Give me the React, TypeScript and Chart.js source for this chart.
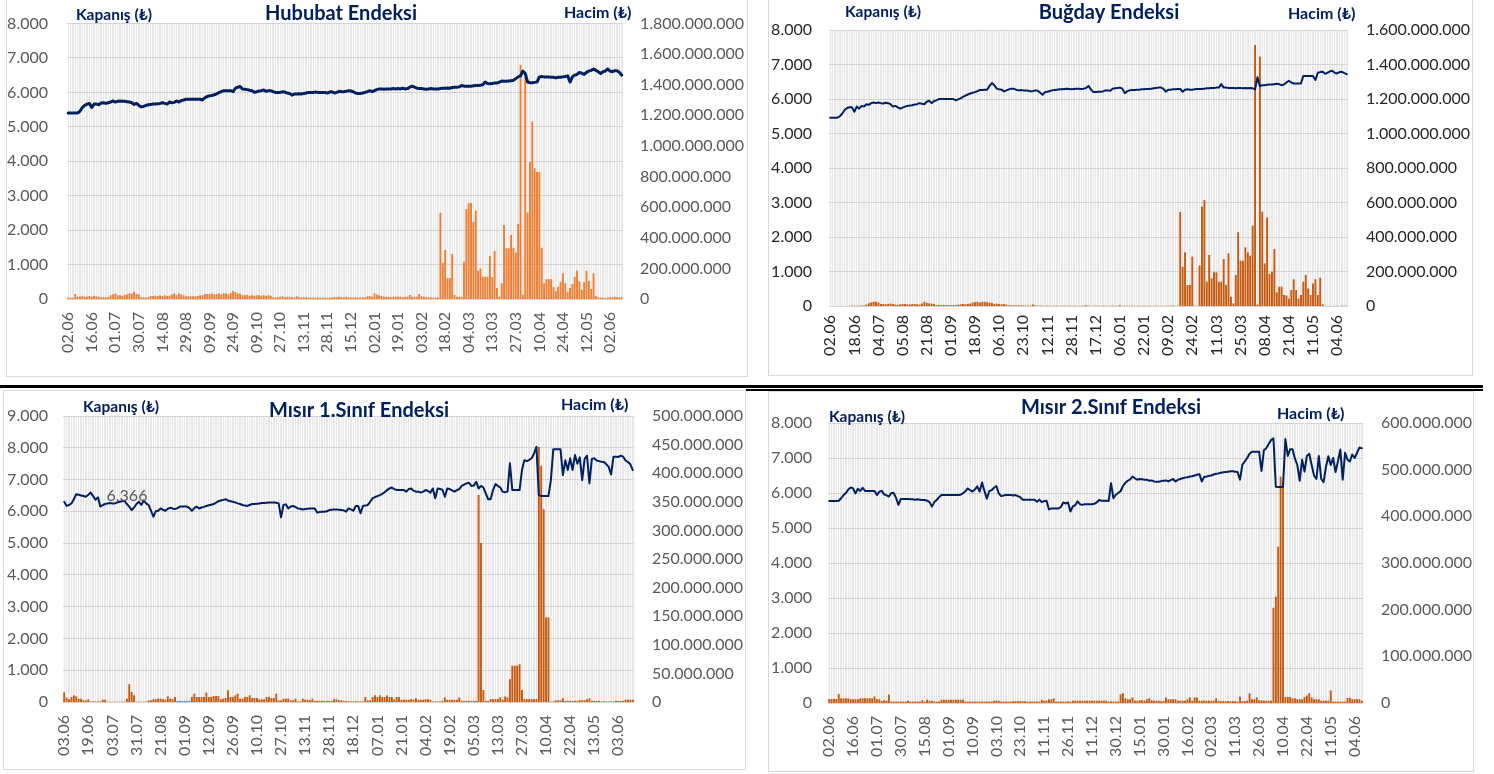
import React, { useEffect, useRef } from 'react';
import { Chart, registerables } from 'chart.js';
Chart.register(...registerables);

const FONT = "Lato, 'Noto Sans', 'DejaVu Sans', sans-serif";
const NAVY = '#002060';

// ---------------- Hububat ----------------
const hububatTicks = ['02.06','16.06','01.07','30.07','14.08','29.08','09.09','24.09','09.10','27.10','13.11','28.11','15.12','02.01','19.01','03.02','18.02','04.03','13.03','27.03','10.04','24.04','12.05','02.06'];
const hububatClose = [
5400,5400,5400,5400,5400,5450,5560,5620,5660,5680,
5560,5660,5660,5640,5690,5700,5680,5700,5720,5750,
5720,5740,5750,5740,5740,5730,5720,5700,5650,5680,
5620,5580,5590,5620,5640,5650,5660,5660,5670,5680,
5700,5680,5660,5720,5700,5710,5750,5720,5760,5780,
5800,5800,5800,5800,5800,5800,5800,5780,5840,5880,
5900,5910,5930,5960,5990,6020,6050,6050,6050,6050,
6020,6120,6150,6170,6100,6090,6080,6060,6050,6000,
6020,6040,6050,6070,6030,6050,6050,6020,6000,6000,
6000,6020,6010,5980,5970,5920,5950,5950,5960,5950,
5970,5980,6000,6000,6000,6010,6000,6000,6000,6000,
5980,6010,6020,5980,6000,6030,6020,6020,6030,6050,
6040,6020,5980,5970,5970,5980,6000,6020,6050,6020,
6050,6080,6100,6100,6090,6100,6100,6100,6110,6100,
6110,6100,6120,6100,6110,6150,6180,6150,6120,6110,
6110,6100,6090,6100,6110,6100,6100,6100,6110,6120,
6120,6130,6120,6140,6150,6150,6160,6200,6180,6180,
6180,6180,6190,6200,6200,6210,6220,6300,6260,6250,
6260,6270,6270,6300,6330,6320,6320,6330,6340,6350,
6400,6450,6480,6620,6550,6300,6280,6280,6290,6300,
6450,6460,6450,6450,6450,6440,6440,6420,6440,6440,
6450,6460,6480,6300,6450,6500,6520,6580,6560,6520,
6580,6620,6640,6680,6640,6600,6550,6600,6620,6680,
6620,6600,6630,6630,6580,6500];
// volume in millions of TL
const hububatVolume = [
8,8,8,33,15,15,22,15,15,20,
15,22,18,15,12,12,12,12,25,30,
36,25,25,22,28,30,36,36,48,33,
30,12,12,10,12,20,20,22,20,25,
20,25,20,22,30,36,25,36,30,25,
18,18,18,18,18,20,25,25,33,33,
33,36,30,33,36,30,38,36,30,40,
52,45,36,36,25,25,28,22,25,22,
25,25,22,25,22,25,22,10,10,12,
15,18,12,15,15,12,10,18,12,10,
10,12,10,8,10,8,8,8,8,8,
8,8,10,15,12,14,12,10,15,12,
10,10,12,8,10,12,10,18,20,15,
36,30,25,20,14,14,14,12,14,14,
14,14,12,14,14,26,14,14,14,33,
18,14,12,12,10,10,8,10,564,237,
320,137,137,294,26,14,14,14,244,588,
627,627,505,577,185,200,146,146,146,281,
144,314,72,14,103,484,331,331,418,335,
303,490,1530,30,1450,565,895,1160,855,830,
830,335,103,129,129,129,78,50,80,113,
168,103,48,72,98,146,185,115,60,109,
185,120,65,168,20,10,10,8,5,10,
12,12,14,12,12,10];

// ---------------- Buğday ----------------
const bugdayTicks = ['02.06','18.06','04.07','05.08','21.08','01.09','18.09','06.10','23.10','12.11','28.11','17.12','06.01','22.01','09.02','24.02','11.03','25.03','08.04','21.04','11.05','04.06'];
const bugdayClose = [
5460,5460,5460,5460,5500,5580,5680,5740,5760,5760,
5630,5780,5720,5800,5780,5850,5830,5880,5900,5880,
5900,5880,5870,5890,5880,5850,5780,5800,5760,5720,
5750,5780,5800,5810,5820,5840,5850,5880,5860,5850,
5920,5950,5880,5940,5960,6000,6000,6000,6000,6000,
6000,6000,5960,5990,6020,6060,6100,6130,6160,6180,
6200,6230,6260,6260,6270,6270,6380,6460,6400,6300,
6280,6270,6220,6250,6280,6300,6300,6270,6250,6260,
6250,6250,6240,6220,6230,6250,6240,6180,6120,6200,
6210,6230,6250,6260,6270,6280,6280,6290,6300,6290,
6280,6290,6300,6300,6290,6300,6320,6380,6280,6200,
6200,6210,6210,6220,6250,6250,6240,6300,6310,6320,
6330,6300,6170,6220,6250,6260,6260,6270,6270,6280,
6280,6290,6290,6300,6310,6320,6330,6330,6300,6210,
6270,6270,6280,6280,6290,6290,6210,6270,6280,6270,
6270,6280,6290,6290,6290,6300,6310,6310,6320,6320,
6330,6330,6430,6330,6330,6320,6320,6320,6310,6320,
6320,6310,6320,6310,6320,6310,6280,6630,6370,6400,
6400,6410,6420,6420,6430,6440,6430,6400,6420,6480,
6530,6480,6450,6450,6450,6450,6670,6670,6670,6670,
6670,6550,6760,6780,6790,6730,6760,6800,6820,6760,
6740,6780,6790,6750,6720];
const bugdayVolume = [
0,0,0,0,0,0,0,0,1,2,
2,1,2,3,3,8,15,21,25,25,
20,12,12,10,12,14,12,8,6,10,
12,12,10,8,12,12,10,8,14,25,
18,15,14,12,6,6,5,6,5,6,
5,6,6,8,10,12,10,12,14,20,
22,25,20,24,25,22,20,18,12,14,
12,10,12,8,4,4,3,4,4,3,
3,2,2,3,8,4,2,2,2,1,
2,1,1,2,2,1,1,2,1,2,
1,1,2,1,1,2,5,2,1,1,
2,1,1,2,2,1,1,2,1,2,
5,1,2,1,1,2,1,1,2,1,
1,1,2,1,1,2,1,1,1,1,
1,2,3,1,1,545,228,311,122,122,
286,2,0,234,576,614,141,296,160,195,
195,141,141,272,122,306,54,15,180,427,
263,263,340,311,292,466,1513,8,1445,547,
247,514,186,199,330,79,112,112,64,61,
43,93,155,93,43,64,141,180,102,64,
131,155,64,164,10,1,0,1,0,1,
1,0,2,1,1];

// ---------------- Mısır 1.Sınıf ----------------
const misir1Ticks = ['03.06','19.06','03.07','31.07','21.08','01.09','12.09','26.09','10.10','27.10','13.11','28.11','18.12','07.01','21.01','04.02','19.02','05.03','13.03','27.03','10.04','22.04','13.05','03.06'];
const misir1Close = [
6300,6170,6200,6250,6380,6540,6520,6500,6480,6460,
6520,6590,6480,6366,6440,6150,6200,6230,6250,6260,
6250,6250,6280,6300,6320,6330,6230,6150,6040,6120,
6230,6300,6200,6340,6250,6200,6020,5830,6000,6020,
6090,6050,6020,6080,6110,6090,6070,6100,6150,6150,
6150,6150,6100,6020,6100,6150,6090,6120,6140,6170,
6190,6210,6230,6270,6320,6340,6360,6380,6340,6320,
6300,6280,6250,6230,6200,6180,6170,6200,6230,6230,
6240,6250,6260,6260,6270,6280,6280,6280,6270,6250,
5810,6200,6220,6090,6150,6170,6130,6090,6080,6060,
6070,6080,6090,6090,6090,5960,5980,5990,5990,6000,
6040,6050,6060,6060,6050,6040,6030,5990,6090,6060,
6020,6170,6170,5940,6170,6180,6200,6300,6410,6450,
6480,6510,6550,6600,6670,6720,6750,6700,6670,6670,
6670,6670,6620,6700,6720,6650,6620,6620,6590,6620,
6670,6640,6590,6720,6410,6720,6700,6680,6460,6720,
6700,6660,6620,6670,6700,6800,6840,6880,6900,6800,
6810,6930,6720,6800,6750,6560,6380,6380,6670,6860,
6800,6750,6620,6600,6620,7510,6670,6670,6670,6670,
7300,7610,7580,7620,7670,7820,8030,6510,6480,6480,
6480,6480,6980,7950,7950,7950,7950,7140,7610,7300,
7670,7300,7770,7500,7700,6980,7650,7750,6880,7650,
7670,7600,7580,7560,7550,7480,7400,7160,7720,7720,
7710,7750,7720,7600,7550,7480,7300];
const misir1Volume = [
17,7.6,4.7,8.7,11.6,9.9,5.8,5.8,2.9,2.5,
4.7,1,1,1,1,1,4,4,0.5,0.5,
0.5,0.5,0.5,0.5,0.5,0.5,5.8,31,17.5,11.6,
0.5,0.5,0.5,0.5,0.5,2.9,2.9,4.7,4.7,5.8,
5.8,5,4,9.9,6,5,8.7,1.7,1.7,1.7,
1.7,1.7,1.7,8.7,14.5,8.7,8.7,8.7,8.7,16.3,
8.7,8.7,10.5,10.5,10.5,4.7,6,7,20.4,8.7,
8.7,11.6,14.5,5.8,5.8,8.7,8.7,11.6,7,7,
7,4.7,4.7,4.7,8.7,8.7,7,7,14.5,2.9,
2.9,5.8,5.8,5.8,2.9,2.9,5.8,1,1,5.8,
4,4,3,5.8,2,2,2,2,2,2,
2,2,4.7,4.7,2.9,2.9,2,1.5,1.5,1,
1,1.5,1,1,1,8.7,2.9,2.9,8.7,11.6,
8.7,11.6,8.7,8.7,11.6,8.7,8.7,4.7,8.7,8.7,
3.9,3.9,3.9,3.9,5,3.9,6.6,3.9,3.9,3.9,
5,5,3.9,1,1,1,1,2,7.8,3.9,
3.9,3.9,3.9,3.9,7.8,2,2,2,2,2,
2,2,362,278,21,2,2,5,5,5,
5,8.6,4,9.7,8,40,63.5,63.5,63.5,66,
21,5,5,5,5,5,5,446,413,337,
148,148,0.5,1,3,3,3,6.6,2,2,
2,2,2,2,3,3,3,5,6.6,2,
2,2,2,1,1,1,1,1,1,2,
2,2,2,4,4,4,4];

// ---------------- Mısır 2.Sınıf ----------------
const misir2Ticks = ['02.06','16.06','01.07','30.07','15.08','01.09','10.09','03.10','23.10','11.11','26.11','11.12','30.12','15.01','30.01','16.02','02.03','11.03','26.03','10.04','22.04','11.05','04.06'];
const misir2Close = [
5770,5770,5770,5770,5780,5850,5940,6000,6100,6160,
6130,5990,6120,6060,6150,6060,6060,6060,6060,6060,
5940,6040,6060,5960,5930,5900,6000,6000,5860,5660,
5830,5830,5830,5830,5820,5820,5810,5820,5810,5800,
5800,5780,5740,5610,5740,5800,5880,5940,5940,5940,
5940,5940,5940,5940,5940,5950,5990,6050,6130,6080,
6040,6100,6190,6040,6300,6060,5840,6050,6080,6150,
6200,5990,5910,5930,5940,5940,5940,5930,5940,5910,
5880,5810,5810,5810,5810,5810,5810,5750,5810,5740,
5770,5780,5530,5560,5560,5560,5560,5600,5730,5700,
5730,5470,5620,5650,5760,5680,5660,5680,5680,5680,
5680,5690,5730,5800,5780,5780,5780,5770,6280,5850,
5950,6000,6050,6200,6290,6350,6390,6470,6420,6380,
6400,6390,6380,6380,6350,6360,6330,6320,6320,6340,
6350,6360,6330,6370,6400,6330,6380,6400,6420,6440,
6450,6470,6480,6500,6520,6540,6330,6460,6470,6490,
6500,6530,6550,6560,6580,6590,6600,6610,6620,6620,
6610,6600,6380,6810,6900,7000,7120,7180,7180,7180,
7180,6630,7220,7280,7400,7510,7560,6180,6170,6170,
6170,7540,7060,7250,7250,6980,6800,6350,6950,6610,
7060,7120,6800,6500,6400,7060,6400,6310,6750,7050,
6800,7000,6600,6900,7240,6380,7150,6950,6900,7100,
7000,7150,7300,7280];
const misir2Volume = [
8.6,8.6,8.6,8.6,19,10,10,10,10,8,
8,8,8,10,10,10,10,10,10,14,
8,8,4,6,5,18,3,3,3,3,
3,3,3,5,3,3,3,3,3,6,
3,7,5,5,3,3,3,7,7,7,
7,7,7,7,7,7,7,3,3,3,
3,3,3,3,3,3,3,3,3,5,
5,5,3,3,3,3,3,4,4,4,
4,4,4,3,3,3,3,3,3,7,
5,5,8,8,10,3,3,3,3,3,
3,3,5,5,5,5,5,5,5,5,
5,5,5,5,5,5,5,3,3,3,
3,3,19,21,10,8,8,12,5,5,
6,6,5,8,10,6,5,5,5,4,
4,12,8,8,8,8,5,5,5,5,
8,12,5,12,12,5,5,5,5,5,
5,5,10,5,4,4,4,4,4,4,
4,3,14,4,4,5,21,8,8,12,
6,6,5,5,5,5,204,228,335,485,
470,13,13,13,10,10,8,8,8,13,
16,21,12,8,8,8,5,5,5,5,
27,3,3,3,3,3,3,11,11,8,
8,8,8,5];

const LABEL_EVERY = 10;

function fmt(v: number): string {
  return Math.round(v).toString().replace(/\B(?=(\d{3})+(?!\d))/g, '.');
}

function buildLabels(ticks: string[], n: number): string[] {
  const out: string[] = [];
  for (let i = 0; i < n; i++) {
    out.push(i % LABEL_EVERY === 0 && ticks[i / LABEL_EVERY] ? ticks[i / LABEL_EVERY] : '');
  }
  return out;
}

type TextSpec = { t: string; x: number; y: number; align: CanvasTextAlign; size: number; bold: boolean; color: string };

type Spec = {
  panel: { x: number; y: number; w: number; h: number };
  canvas: { x: number; y: number; w: number; h: number };
  area: { l: number; r: number; t: number; b: number };
  ticks: string[];
  close: number[];
  volume: number[];
  yMax: number; yStep: number; y1Max: number; y1Step: number;
  barColor: string; lineWidth: number; tickColor: string;
  leftPad: number; rightPad: number; xPad: number;
  texts: TextSpec[];
  dataLabel?: { index: number; dx: number; dy: number };
};

function titles(title: string, tx: number, ty: number, kx: number, ky: number, hx: number, hy: number): TextSpec[] {
  return [
    { t: title, x: tx, y: ty, align: 'center', size: 20, bold: true, color: NAVY },
    { t: 'Kapanış (₺)', x: kx, y: ky, align: 'left', size: 15.5, bold: true, color: NAVY },
    { t: 'Hacim (₺)', x: hx, y: hy, align: 'left', size: 16, bold: true, color: NAVY },
  ];
}

const SPECS: Spec[] = [
  {
    panel: { x: 6, y: -1, w: 742, h: 378 },
    canvas: { x: 7, y: 0, w: 740, h: 376 },
    area: { l: 67, r: 623, t: 23.5, b: 299 },
    ticks: hububatTicks, close: hububatClose, volume: hububatVolume,
    yMax: 8000, yStep: 1000, y1Max: 1800, y1Step: 200,
    barColor: '#ED7D31', lineWidth: 3, tickColor: '#595959',
    leftPad: 19, rightPad: 17, xPad: 13,
    texts: titles('Hububat Endeksi', 341, 19.5, 76, 20, 564, 18),
  },
  {
    panel: { x: 768, y: -1, w: 705, h: 377 },
    canvas: { x: 769, y: 0, w: 703, h: 375 },
    area: { l: 829, r: 1348, t: 30, b: 306 },
    ticks: bugdayTicks, close: bugdayClose, volume: bugdayVolume,
    yMax: 8000, yStep: 1000, y1Max: 1600, y1Step: 200,
    barColor: '#C55A11', lineWidth: 2, tickColor: '#262626',
    leftPad: 17, rightPad: 18, xPad: 9,
    texts: titles('Buğday Endeksi', 1109, 18.5, 845, 16.5, 1288, 18.5),
  },
  {
    panel: { x: 3, y: 390, w: 743, h: 380 },
    canvas: { x: 4, y: 391, w: 741, h: 378 },
    area: { l: 63, r: 634, t: 416, b: 702 },
    ticks: misir1Ticks, close: misir1Close, volume: misir1Volume,
    yMax: 9000, yStep: 1000, y1Max: 500, y1Step: 50,
    barColor: '#C55A11', lineWidth: 2, tickColor: '#595959',
    leftPad: 15, rightPad: 18, xPad: 13,
    texts: titles('Mısır 1.Sınıf Endeksi', 359, 416.5, 83, 412, 561, 410),
    dataLabel: { index: 13, dx: 11, dy: -4 },
  },
  {
    panel: { x: 768, y: 391, w: 706, h: 381 },
    canvas: { x: 769, y: 392, w: 704, h: 379 },
    area: { l: 828, r: 1363, t: 423, b: 703 },
    ticks: misir2Ticks, close: misir2Close, volume: misir2Volume,
    yMax: 8000, yStep: 1000, y1Max: 600, y1Step: 100,
    barColor: '#C55A11', lineWidth: 2, tickColor: '#595959',
    leftPad: 16, rightPad: 18, xPad: 13,
    texts: titles('Mısır 2.Sınıf Endeksi', 1111, 413.5, 829, 421.5, 1277, 418.5),
  },
];

const plotBg = {
  id: 'plotBg',
  beforeDraw(chart: any) {
    const { ctx, chartArea } = chart;
    if (!chartArea) return;
    ctx.save();
    ctx.fillStyle = '#e8e8e8';
    ctx.fillRect(chartArea.left, chartArea.top, chartArea.right - chartArea.left, chartArea.bottom - chartArea.top);
    ctx.restore();
  },
};

const overlay = {
  id: 'overlay',
  afterDraw(chart: any, _args: any, opts: any) {
    const ctx = chart.ctx;
    const ox = opts.ox || 0;
    const oy = opts.oy || 0;
    ctx.save();
    (opts.texts || []).forEach((s: TextSpec) => {
      ctx.font = `${s.bold ? 'bold ' : ''}${s.size}px ${FONT}`;
      ctx.fillStyle = s.color;
      ctx.textAlign = s.align;
      ctx.textBaseline = 'alphabetic';
      ctx.fillText(s.t, s.x - ox, s.y - oy);
    });
    if (opts.dataLabel) {
      const meta = chart.getDatasetMeta(0);
      const pt = meta.data[opts.dataLabel.index];
      const val = chart.data.datasets[0].data[opts.dataLabel.index];
      if (pt) {
        ctx.font = `16px ${FONT}`;
        ctx.fillStyle = '#595959';
        ctx.textAlign = 'left';
        ctx.textBaseline = 'middle';
        ctx.fillText(fmt(val), pt.x + opts.dataLabel.dx, pt.y + opts.dataLabel.dy);
      }
    }
    ctx.restore();
  },
};

function zeroPad(sc: any) {
  sc.paddingTop = 0;
  sc.paddingBottom = 0;
  sc.paddingLeft = 0;
  sc.paddingRight = 0;
}

function makeConfig(s: Spec): any {
  const labels = buildLabels(s.ticks, s.close.length);
  const tickFont = { family: FONT, size: 16 };
  const leftW = s.area.l - s.canvas.x;
  const rightW = s.canvas.x + s.canvas.w - s.area.r;
  const bottomH = s.canvas.y + s.canvas.h - s.area.b;
  return {
    type: 'bar',
    data: {
      labels,
      datasets: [
        {
          type: 'line', data: s.close, yAxisID: 'y', borderColor: NAVY, backgroundColor: NAVY,
          borderWidth: s.lineWidth, pointRadius: 0, pointHoverRadius: 0, tension: 0, order: 0,
          borderJoinStyle: 'round', borderCapStyle: 'round',
        },
        {
          type: 'bar', data: s.volume, yAxisID: 'y1', backgroundColor: s.barColor, borderWidth: 0,
          barPercentage: 0.8, categoryPercentage: 1, order: 1,
        },
      ],
    },
    options: {
      responsive: false,
      animation: false,
      devicePixelRatio: 1,
      events: [],
      layout: { padding: { left: 0, right: 0, top: s.area.t - s.canvas.y, bottom: 0 } },
      plugins: {
        legend: { display: false },
        tooltip: { enabled: false },
        title: { display: false },
        overlay: { texts: s.texts, ox: s.canvas.x, oy: s.canvas.y, dataLabel: s.dataLabel },
      },
      scales: {
        x: {
          type: 'category', offset: true,
          grid: { offset: true, color: '#fbfbfb', lineWidth: 1, drawTicks: false },
          border: { display: false },
          ticks: {
            autoSkip: false, maxRotation: 90, minRotation: 90, padding: s.xPad,
            font: tickFont, color: s.tickColor,
          },
          afterFit: (sc: any) => { sc.height = bottomH; zeroPad(sc); },
        },
        y: {
          position: 'left', min: 0, max: s.yMax,
          grid: { color: '#d4d4d4', lineWidth: 1, drawTicks: false },
          border: { display: false },
          ticks: { stepSize: s.yStep, padding: s.leftPad, font: tickFont, color: s.tickColor, callback: (v: any) => fmt(Number(v)) },
          afterFit: (sc: any) => { sc.width = leftW; zeroPad(sc); },
        },
        y1: {
          position: 'right', min: 0, max: s.y1Max,
          grid: { display: false, drawTicks: false },
          border: { display: false },
          ticks: { stepSize: s.y1Step, padding: s.rightPad, font: tickFont, color: s.tickColor, callback: (v: any) => fmt(Number(v) * 1000000) },
          afterFit: (sc: any) => { sc.width = rightW; zeroPad(sc); },
        },
      },
    },
    plugins: [plotBg, overlay],
  };
}

export default function App() {
  const refs = useRef<(HTMLCanvasElement | null)[]>([]);
  useEffect(() => {
    const charts = SPECS.map((s, i) => new Chart(refs.current[i] as HTMLCanvasElement, makeConfig(s)));
    return () => { charts.forEach((c) => c.destroy()); };
  }, []);
  return (
    <div style={{ position: 'absolute', left: 0, top: 0, width: 1494, height: 774, background: '#ffffff', overflow: 'hidden' }}>
      {SPECS.map((s, i) => (
        <div key={'p' + i} style={{ position: 'absolute', left: s.panel.x, top: s.panel.y, width: s.panel.w, height: s.panel.h, border: '1px solid #d9d9d9', boxSizing: 'border-box' }} />
      ))}
      {SPECS.map((s, i) => (
        <canvas
          key={'c' + i}
          ref={(el) => { refs.current[i] = el; }}
          width={s.canvas.w}
          height={s.canvas.h}
          style={{ position: 'absolute', left: s.canvas.x, top: s.canvas.y, width: s.canvas.w, height: s.canvas.h }}
        />
      ))}
      <div style={{ position: 'absolute', left: 0, top: 385, width: 1483, height: 3, background: '#000' }} />
      <div style={{ position: 'absolute', left: 746, top: 389, width: 737, height: 2, background: '#000' }} />
    </div>
  );
}
